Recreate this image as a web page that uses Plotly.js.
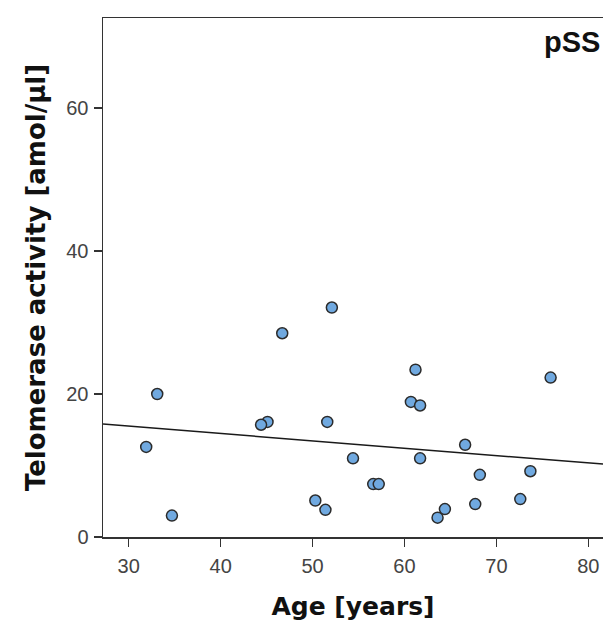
<!DOCTYPE html>
<html>
<head>
<meta charset="utf-8">
<script src="https://cdn.plot.ly/plotly-3.0.1.min.js"></script>
<style>html,body{margin:0;padding:0;background:#fff;}#chart{width:603px;height:625px;}</style>
</head>
<body>
<div id="chart"></div>
<script>
// Age [years]
var ageYears = [52.1, 46.7, 33.1, 45.1, 44.4, 51.6, 31.9, 34.7, 50.3, 51.4,
                61.2, 60.7, 61.7, 75.9, 66.6, 54.4, 61.7, 68.2, 73.7, 56.6,
                57.2, 64.4, 63.6, 67.7, 72.6];
// Telomerase activity [amol/µl]
var telomerase = [32.1, 28.5, 20.0, 16.1, 15.7, 16.1, 12.6, 3.0, 5.1, 3.8,
                  23.4, 18.9, 18.4, 22.3, 12.9, 11.0, 11.0, 8.7, 9.2, 7.4,
                  7.4, 3.9, 2.7, 4.6, 5.3];
// linear fit line endpoints
var fitX = [27.2, 81.6];
var fitY = [15.8, 10.2];
var xTicks = [30, 40, 50, 60, 70, 80];
var yTicks = [0, 20, 40, 60];
var panelLabel = 'pSS';

var traces = [
  {
    x: fitX, y: fitY, type: 'scatter', mode: 'lines',
    line: {color: '#1a1a1a', width: 1.5}, hoverinfo: 'skip', showlegend: false
  },
  {
    x: ageYears, y: telomerase, type: 'scatter', mode: 'markers',
    marker: {size: 11, color: '#70a9e0', line: {color: '#2b2b2b', width: 1.5}},
    showlegend: false
  }
];

var layout = {
  width: 603, height: 625,
  margin: {l: 103, r: 0, t: 18, b: 88},
  paper_bgcolor: '#fff', plot_bgcolor: '#fff',
  font: {family: 'Liberation Sans, Arial, sans-serif', color: '#333'},
  xaxis: {
    range: [27.2, 81.6], tickvals: xTicks, ticktext: xTicks.map(String),
    showgrid: false, zeroline: false, showline: true, mirror: true,
    linecolor: '#333', linewidth: 1.5, ticks: 'outside', ticklen: 8,
    tickcolor: '#333', tickwidth: 1.5, ticklabelstandoff: 2,
    tickfont: {size: 20, color: '#444'},
    title: {text: '<b>Age [years]</b>', font: {family: 'DejaVu Sans, sans-serif', size: 25, color: '#111'}, standoff: 22}
  },
  yaxis: {
    range: [0, 72.6], tickvals: yTicks, ticktext: yTicks.map(String),
    showgrid: false, zeroline: false, showline: true, mirror: false,
    linecolor: '#333', linewidth: 1.5, ticks: 'outside', ticklen: 8,
    tickcolor: '#333', tickwidth: 1.5, ticklabelstandoff: 1,
    tickfont: {size: 20, color: '#444'},
    title: {text: '<b>Telomerase activity [amol/μl]</b>', font: {family: 'DejaVu Sans, sans-serif', size: 26, color: '#111'}, standoff: 13}
  },
  annotations: [{
    text: '<b>' + panelLabel + '</b>', xref: 'paper', yref: 'paper',
    x: 0.997, y: 0.953, xanchor: 'right', yanchor: 'middle', showarrow: false,
    font: {size: 29, color: '#111'}
  }]
};

Plotly.newPlot('chart', traces, layout, {displayModeBar: false, staticPlot: true});
</script>
</body>
</html>
